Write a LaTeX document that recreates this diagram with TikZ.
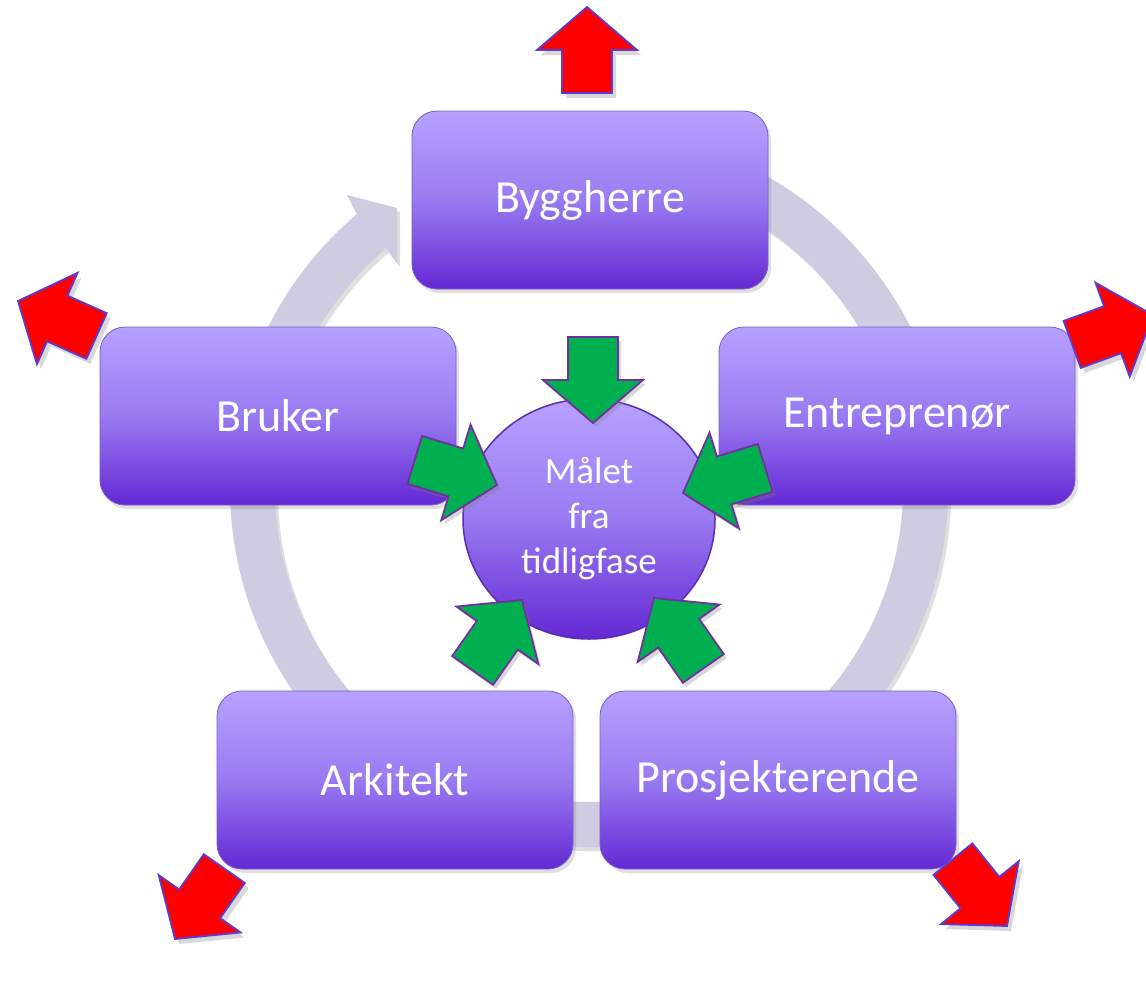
\documentclass[tikz,border=0pt]{standalone}
\usepackage{fontspec}
\setmainfont{Carlito}
\usetikzlibrary{shadows,shapes.geometric,calc}
\definecolor{ringc}{HTML}{CFCBE1}
\definecolor{boxtop}{HTML}{B7A1FF}
\definecolor{boxmid}{HTML}{997AF1}
\definecolor{boxbot}{HTML}{6428D4}
\definecolor{boxline}{HTML}{7B5CC9}
\definecolor{circline}{HTML}{5A2DB0}
\definecolor{greenc}{HTML}{00B050}
\definecolor{greenline}{HTML}{7030A0}
\definecolor{redc}{HTML}{FF0000}
\definecolor{redline}{HTML}{5B3BD0}
\begin{document}
\begin{tikzpicture}[x=1pt,y=-1pt,
  rolebox/.style={rectangle, rounded corners=25pt, minimum width=356pt, minimum height=178pt,
    inner sep=0pt, top color=boxtop, bottom color=boxbot, middle color=boxmid,
    draw=boxline, line width=0.8pt, text=white, font=\fontsize{46}{55}\selectfont,
    drop shadow={opacity=0.25, shadow xshift=3pt, shadow yshift=-4pt}},
  goalnode/.style={ellipse, minimum width=252pt, minimum height=240pt, inner sep=0pt,
    top color=boxtop, bottom color=boxbot, middle color=boxmid,
    draw=circline, line width=1.5pt, text=white, align=center,
    font=\fontsize{37}{45}\selectfont},
  garrow/.style={fill=greenc, draw=greenline, line width=1.8pt, line join=miter,
    drop shadow={opacity=0.3, shadow xshift=3pt, shadow yshift=-4pt}},
  rarrow/.style={fill=redc, draw=redline, line width=1.8pt, line join=miter,
    drop shadow={opacity=0.3, shadow xshift=4pt, shadow yshift=-5pt}},
  greenarrow/.pic={\path[garrow] (0,0) -- (-43,-50) -- (-43,-25) -- (-86,-25) -- (-86,25) -- (-43,25) -- (-43,50) -- cycle;},
  redarrow/.pic={\path[rarrow] (0,0) -- (-43,-50) -- (-43,-25) -- (-86,-25) -- (-86,25) -- (-43,25) -- (-43,50) -- cycle;},
  ringshape/.style={fill=ringc, drop shadow={opacity=0.25, shadow xshift=3pt, shadow yshift=-4pt}}
]
\useasboundingbox (0,0) rectangle (1146,985);
\clip (0,0) rectangle (1146,985);
\fill[white] (0,0) rectangle (1146,985);

% circular ring arrow
\coordinate (rc) at (589,488);
\path[ringshape] ($(rc)+(-65:359)$) arc[start angle=-65, end angle=229.7, radius=359]
  -- (347,195) -- (397,208) -- (397,263) -- ($(rc)+(229.7:314)$)
  arc[start angle=229.7, end angle=-65, radius=314] -- cycle;

% role boxes
\node[rolebox] (bygg) at (590,200) {Byggherre};
\node[rolebox] (bruker) at (278,416) {Bruker};
\node[rolebox] (entr) at (897,416) {Entreprenør};
\node[rolebox] (ark) at (395,780) {Arkitekt};
\node[rolebox] (pros) at (778,780) {Prosjekterende};

% goal
\node[goalnode] (goal) at (589,519) {Målet\\fra\\tidligfase};

% green arrows
\pic[rotate=-90] at (593,423) {greenarrow};
\pic[rotate=-17] at (497,485) {greenarrow};
\pic[rotate=-163] at (683,493) {greenarrow};
\pic[rotate=55] at (522,600) {greenarrow};
\pic[rotate=125] at (654,598) {greenarrow};

% red arrows
\pic[rotate=90] at (587,7) {redarrow};
\pic[rotate=156] at (18,301) {redarrow};
\pic[rotate=20] at (1153,315) {redarrow};
\pic[rotate=-125] at (175,939) {redarrow};
\pic[rotate=-51] at (1007,926) {redarrow};
\end{tikzpicture}
\end{document}
